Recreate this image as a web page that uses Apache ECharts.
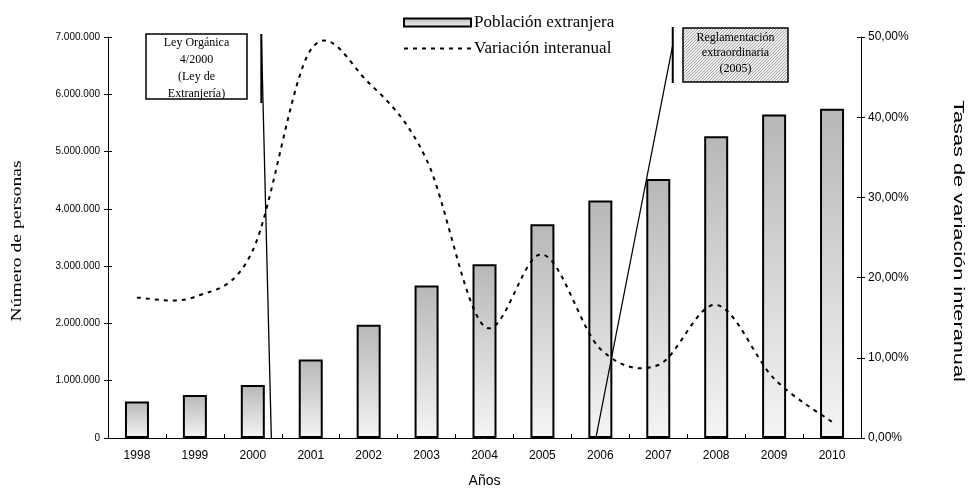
<!DOCTYPE html>
<html><head><meta charset="utf-8">
<script src="https://cdn.jsdelivr.net/npm/echarts@6/dist/echarts.min.js"></script>
<style>html,body{margin:0;padding:0;background:#fff}#c{width:969px;height:489px}</style>
</head><body><div id="c"></div>
<script>
var years = ['1998','1999','2000','2001','2002','2003','2004','2005','2006','2007','2008','2009','2010'];
var poblacion = [637000, 749000, 924000, 1371000, 1978000, 2664000, 3034000, 3731000, 4144000, 4520000, 5269000, 5649000, 5748000];
var variacion = [17.5, 17.6, 23.4, 48.4, 44.3, 34.7, 13.9, 22.9, 11.1, 9.1, 16.6, 7.4, 2.0];
var leftTicks = {min: 0, max: 7000000, interval: 1000000};
var rightTicks = {min: 0, max: 50, interval: 10};

var serif = '"Liberation Serif", "Times New Roman", serif';
var sans = '"Liberation Sans", Arial, sans-serif';

function fmtThousands(v){ return String(v).replace(/\B(?=(\d{3})+(?!\d))/g, '.'); }
function fmtPct(v){ return v.toFixed(2).replace('.',',') + '%'; }

// dashed-line legend icon (67 x 8 box)
var dashIcon = 'path://M0,0L0,0M0,8L0,8';
for (var k = 0; k < 8; k++) { dashIcon += 'M' + (k*9) + ',3h4v2h-4Z'; }

var chart = echarts.init(document.getElementById('c'), null, {renderer:'canvas'});
var barGrad = new echarts.graphic.LinearGradient(0,0,0,1,[{offset:0,color:'#b7b7b7'},{offset:1,color:'#f5f5f5'}]);

// Excel-like smoothed line (uniform Catmull-Rom through the data points, mapped by the axes)
function renderSmooth(params, api){
  if (params.dataIndex !== 0) return null;
  var pts = variacion.map(function(v, i){ return api.coord([i, v]); });
  var d = 'M' + pts[0][0] + ',' + pts[0][1];
  for (var i = 0; i < pts.length - 1; i++) {
    var p0 = pts[Math.max(i-1,0)], p1 = pts[i], p2 = pts[i+1], p3 = pts[Math.min(i+2, pts.length-1)];
    var c1x = p1[0] + (p2[0]-p0[0])/6, c1y = p1[1] + (p2[1]-p0[1])/6;
    var c2x = p2[0] - (p3[0]-p1[0])/6, c2y = p2[1] - (p3[1]-p1[1])/6;
    d += 'C' + c1x + ',' + c1y + ',' + c2x + ',' + c2y + ',' + p2[0] + ',' + p2[1];
  }
  return {type:'path', shape:{pathData:d}, style:{fill:null, stroke:'#000', lineWidth:2, lineDash:[4,5]}};
}

var tickStyle = {color:'#000', width:1};
function innerTicksY(pos, t){
  return {type:'value', position:pos, min:t.min, max:t.max, interval:t.interval,
    axisLine:{show:false}, axisLabel:{show:false}, splitLine:{show:false},
    axisTick:{show:true, inside:true, length:4, lineStyle:tickStyle}};
}

chart.setOption({
  animation:false,
  backgroundColor:'#fff',
  grid:{left:108, right:108, top:37, bottom:51, containLabel:false},
  legend:{
    orient:'vertical', left:398, top:9, itemWidth:67, itemHeight:8, itemGap:9, symbolKeepAspect:false,
    textStyle:{fontFamily:serif, fontSize:17, color:'#000', padding:[0,0,0,-2]},
    data:[
      {name:'Población extranjera', icon:'rect'},
      {name:'Variación interanual', icon:dashIcon, itemStyle:{color:'#000', borderWidth:0}}
    ]
  },
  xAxis:[{
    type:'category', data:years, position:'bottom',
    axisLine:{lineStyle:{color:'#000', width:1}},
    axisTick:{length:4, lineStyle:tickStyle},
    axisLabel:{fontFamily:sans, fontSize:12, color:'#000', margin:12}
  },{
    type:'category', data:years, position:'bottom',
    axisLine:{show:false}, axisLabel:{show:false},
    axisTick:{show:true, inside:true, length:4, lineStyle:tickStyle}
  }],
  yAxis:[{
    type:'value', min:leftTicks.min, max:leftTicks.max, interval:leftTicks.interval,
    axisLine:{show:true, lineStyle:{color:'#000'}},
    axisTick:{show:true, length:4, lineStyle:tickStyle},
    splitLine:{show:false},
    axisLabel:{fontFamily:sans, fontSize:10, color:'#000', margin:8, formatter:fmtThousands}
  },{
    type:'value', position:'right', min:rightTicks.min, max:rightTicks.max, interval:rightTicks.interval,
    axisLine:{show:true, lineStyle:{color:'#000'}},
    axisTick:{show:true, length:4, lineStyle:tickStyle},
    splitLine:{show:false},
    axisLabel:{fontFamily:sans, fontSize:12, color:'#000', margin:7, formatter:fmtPct}
  },
  innerTicksY('left', leftTicks),
  innerTicksY('right', rightTicks)
  ],
  series:[{
    name:'Población extranjera', type:'bar', data:poblacion, barWidth:24,
    itemStyle:{color:barGrad, borderColor:'#000', borderWidth:2}
  },{
    name:'Variación interanual', type:'custom', yAxisIndex:1, z:5,
    data:variacion.map(function(v, i){ return [i, v]; }),
    encode:{x:0, y:1},
    itemStyle:{color:'#000'},
    renderItem:renderSmooth
  }]
});

function xAt(cat, frac){
  var a = chart.convertToPixel({xAxisIndex:0}, years[cat]);
  var b = chart.convertToPixel({xAxisIndex:0}, years[cat+1]);
  return a + (b-a)*frac;
}
var y0 = chart.convertToPixel({yAxisIndex:0}, 0);
var yTop = chart.convertToPixel({yAxisIndex:0}, 7000000);
var gridLeft = chart.convertToPixel({xAxisIndex:0}, years[0]) - (xAt(0,1) - xAt(0,0))/2;
var gridRight = chart.convertToPixel({xAxisIndex:0}, years[12]) + (xAt(0,1) - xAt(0,0))/2;

// dotted pattern for second annotation box
var pc = document.createElement('canvas'); pc.width=3; pc.height=3;
var pctx = pc.getContext('2d');
pctx.fillStyle='#efefef'; pctx.fillRect(0,0,3,3);
pctx.fillStyle='#a8a8a8'; pctx.fillRect(0,0,1,1); pctx.fillRect(1,2,1,1); pctx.fillRect(2,1,1,1);

var x1 = xAt(2, 0.147);
var x1b = xAt(2, 0.32);
var x2 = xAt(8, 1.25);
var x2b = xAt(8, -0.074);

chart.setOption({graphic:[
  {type:'rect', shape:{x:146, y:yTop-3, width:101, height:65}, style:{fill:'#fff', stroke:'#000', lineWidth:1.5}, z:10},
  {type:'text', x:196.5, y:yTop-3, style:{text:'Ley Orgánica\n4/2000\n(Ley de\nExtranjería)', fontFamily:serif, fontSize:12, lineHeight:17, align:'center', verticalAlign:'top', fill:'#000'}, z:11},
  {type:'line', shape:{x1:x1, y1:yTop-3, x2:x1, y2:yTop+66}, style:{stroke:'#000', lineWidth:2}, z:10},
  {type:'line', shape:{x1:x1, y1:yTop-3, x2:x1b, y2:y0}, style:{stroke:'#000', lineWidth:1.3}, z:10},
  {type:'rect', shape:{x:683, y:yTop-9, width:105, height:54}, style:{fill:{image:pc, repeat:'repeat'}, stroke:'#000', lineWidth:1.5}, z:10},
  {type:'text', x:735.5, y:yTop-7, style:{text:'Reglamentación\nextraordinaria\n(2005)', fontFamily:serif, fontSize:12, lineHeight:15.5, align:'center', verticalAlign:'top', fill:'#000'}, z:11},
  {type:'line', shape:{x1:x2, y1:yTop-10, x2:x2, y2:yTop+46}, style:{stroke:'#000', lineWidth:2}, z:10},
  {type:'line', shape:{x1:x2, y1:yTop+8, x2:x2b, y2:y0-1}, style:{stroke:'#000', lineWidth:1.3}, z:10},
  // axis titles (stretched like the reference)
  {type:'text', x:17, y:241, rotation:Math.PI/2, scaleX:1.4,
   style:{text:'Número de personas', fontFamily:serif, fontSize:14, fill:'#000', align:'center', verticalAlign:'middle'}},
  {type:'text', x:958, y:241, rotation:-Math.PI/2, scaleX:1.45,
   style:{text:'Tasas de variación interanual', fontFamily:sans, fontSize:15, fill:'#000', align:'center', verticalAlign:'middle'}},
  {type:'text', x:(gridLeft+gridRight)/2, y:481,
   style:{text:'Años', fontFamily:sans, fontSize:14, fill:'#000', align:'center', verticalAlign:'middle'}}
]});
</script></body></html>
